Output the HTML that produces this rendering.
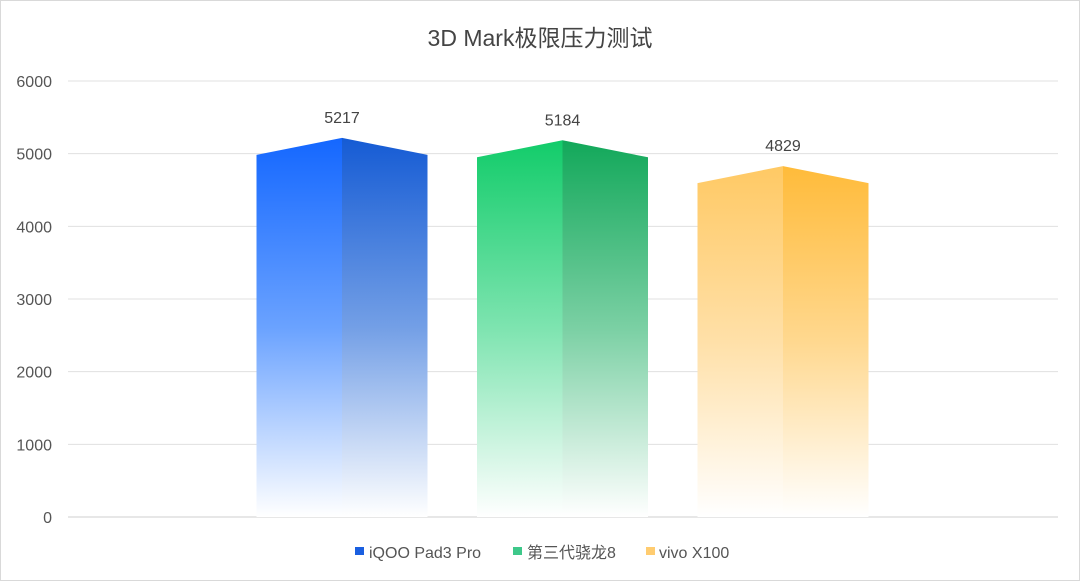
<!DOCTYPE html>
<html><head><meta charset="utf-8"><style>
body{margin:0;background:#fff;}
svg{display:block;font-family:"Liberation Sans","Noto Sans CJK SC",sans-serif;}
</style></head><body>
<svg id="chart" width="1080" height="581">
<defs>
<linearGradient id="gb0" x1="0" y1="0" x2="0" y2="1"><stop offset="0" stop-color="#1467ff"/><stop offset="0.5" stop-color="#6aa2ff"/><stop offset="1" stop-color="#ffffff"/></linearGradient>
<linearGradient id="gb1" x1="0" y1="0" x2="0" y2="1"><stop offset="0" stop-color="#155bd4"/><stop offset="0.5" stop-color="#739fe6"/><stop offset="1" stop-color="#ffffff"/></linearGradient>
<linearGradient id="gg0" x1="0" y1="0" x2="0" y2="1"><stop offset="0" stop-color="#12cc6a"/><stop offset="0.5" stop-color="#7ee4b0"/><stop offset="1" stop-color="#ffffff"/></linearGradient>
<linearGradient id="gg1" x1="0" y1="0" x2="0" y2="1"><stop offset="0" stop-color="#12a85a"/><stop offset="0.5" stop-color="#7bd0a4"/><stop offset="1" stop-color="#ffffff"/></linearGradient>
<linearGradient id="gy0" x1="0" y1="0" x2="0" y2="1"><stop offset="0" stop-color="#ffc964"/><stop offset="0.5" stop-color="#ffe0a8"/><stop offset="1" stop-color="#ffffff"/></linearGradient>
<linearGradient id="gy1" x1="0" y1="0" x2="0" y2="1"><stop offset="0" stop-color="#ffbb3a"/><stop offset="0.5" stop-color="#ffd88f"/><stop offset="1" stop-color="#ffffff"/></linearGradient>
</defs>
<rect x="0.5" y="0.5" width="1079" height="580" fill="#fff" stroke="#d9d9d9"/>
<text x="540" y="46" text-anchor="middle" font-size="23" fill="#444">3D Mark极限压力测试</text>
<g id="grid"></g><g id="bars"></g>
<g font-size="16" fill="#555">
<rect x="355" y="547" width="9" height="8" fill="#1a5fe0"/>
<text x="369" y="558">iQOO Pad3 Pro</text>
<rect x="513" y="547" width="9" height="8" fill="#3ec88a"/>
<text x="527" y="558">第三代骁龙8</text>
<rect x="646" y="547" width="9" height="8" fill="#ffcc70"/>
<text x="659" y="558">vivo X100</text>
</g>
</svg>
<script>
const categories = ["iQOO Pad3 Pro", "第三代骁龙8", "vivo X100"];
const values = [5217, 5184, 4829];
const tickLabels = [0, 1000, 2000, 3000, 4000, 5000, 6000];
const NS = "http://www.w3.org/2000/svg";
const x0 = 68, x1 = 1058, y0 = 517, yTop = 81, yMax = 6000;
const yScale = v => y0 - (v / yMax) * (y0 - yTop);
const bw = (x1 - x0) / (categories.length + 1.5);
const xCenter = i => 342 + i * 220.5;
const grid = document.getElementById("grid");
tickLabels.forEach(t => {
  const l = document.createElementNS(NS, "line");
  
  
  l.setAttribute("x1", x0); l.setAttribute("x2", x1);
  l.setAttribute("y1", yScale(t)); l.setAttribute("y2", yScale(t));
  l.setAttribute("stroke", t === 0 ? "#cfcfcf" : "#e0e0e0");
  grid.appendChild(l);
  const tx = document.createElementNS(NS, "text");
  
  
  tx.setAttribute("x", 52); tx.setAttribute("y", yScale(t) + 6);
  tx.setAttribute("text-anchor", "end"); tx.setAttribute("font-size", "16"); tx.setAttribute("fill", "#555");
  tx.textContent = t; grid.appendChild(tx);
});
const grads = [["gb0","gb1"],["gg0","gg1"],["gy0","gy1"]];
const bars = document.getElementById("bars");
values.forEach((v, i) => {
  const c = xCenter(i), hw = 85.5, yp = yScale(v), ys = yp + 17;
  const g = document.createElementNS(NS, "g");
  
  
  const left = document.createElementNS(NS, "polygon");
  
  
  left.setAttribute("points", `${c-hw},${ys} ${c},${yp} ${c},${y0} ${c-hw},${y0}`);
  left.setAttribute("fill", `url(#${grads[i][0]})`);
  const right = document.createElementNS(NS, "polygon");
  
  
  right.setAttribute("points", `${c},${yp} ${c+hw},${ys} ${c+hw},${y0} ${c},${y0}`);
  right.setAttribute("fill", `url(#${grads[i][1]})`);
  g.appendChild(left); g.appendChild(right);
  const lb = document.createElementNS(NS, "text");
  
  
  lb.setAttribute("x", c); lb.setAttribute("y", yp - 15);
  lb.setAttribute("text-anchor", "middle"); lb.setAttribute("font-size", "16"); lb.setAttribute("fill", "#444");
  lb.textContent = v; g.appendChild(lb);
  bars.appendChild(g);
});
</script>
</body></html>
